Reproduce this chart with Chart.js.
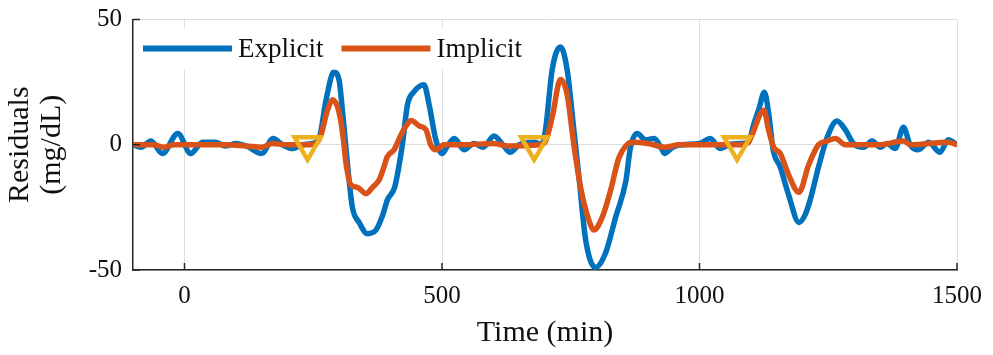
<!DOCTYPE html>
<html>
<head>
<meta charset="utf-8">
<script src="https://cdn.jsdelivr.net/npm/chart.js@4/dist/chart.umd.min.js"></script>
<style>
  body { margin: 0; background: #fff; }
  canvas { display: block; }
</style>
</head>
<body>
<canvas id="residuals" width="993" height="355"></canvas>
<script>
'use strict';

// residuals (time in min, value in mg/dL)
const explicitT = [-100, -85, -65, -43, -13, 12, 35, 60, 80, 100, 120, 150, 172, 190, 210, 230, 248,
  262, 275, 290, 300, 307, 317, 326, 339, 355, 372, 385, 394, 408, 423, 433, 445, 465, 475, 488,
  500, 512, 524, 543, 562, 580, 601, 620, 632, 650, 680, 694,
  701, 714, 730, 743, 756, 766, 779, 798, 818, 837, 857, 866, 879, 895, 912, 925, 932, 948, 966,
  1000, 1021, 1040, 1057, 1080, 1095, 1105, 1115, 1126, 1134, 1143, 1157, 1173, 1193, 1205, 1215,
  1231, 1248, 1267, 1283, 1299, 1319, 1335, 1351, 1364, 1380, 1396, 1409, 1425, 1445, 1467, 1483, 1500];
const explicitV = [0, -1, 1.5, -3.5, 4.5, -3.5, 1, 1, -0.5, 0.5, -0.5, -3.5, 2.5, 0, -1.5, 0, 0.5,
  3, 18, 29, 26, 13, -9, -25, -31, -35.5, -34, -28, -22, -17, 0, 16, 21, 24, 16, 2,
  -3.5, 0, 2.5, -2, 0.5, -1, 3.5, -0.5, -3, 0, 1, 0,
  6, 30, 39, 30, 6, -13, -38, -49, -43, -29, -14.5, -1, 4.5, 2, 2.5, -1, -3.5, -1, 0,
  0.5, 2.5, -1.5, 0, 0.5, 1, 8, 14, 21, 13, -2, -9, -20, -31, -28, -22,
  -9, 3, 9.5, 6, 0.5, -1, 1.5, -1, 0.5, -1.5, 7, 0, -2, 1, -3, 2, 0];

const implicitT = [-100, -60, -40, -20, 30, 80, 120, 150, 170, 200, 240, 255,
  265, 278, 288, 300, 308, 313, 323, 336, 352, 365, 378, 387, 394, 407, 420, 432, 440, 456, 469, 478, 488,
  504, 540, 600, 630, 690, 700, 714, 730, 743, 756, 769, 785, 795, 811, 827, 843, 859, 869, 900, 934, 960,
  1000, 1080, 1095, 1102, 1125, 1134, 1144, 1157, 1173, 1193, 1212, 1231, 1248, 1264, 1283, 1350, 1396, 1410, 1483, 1500];
const implicitV = [0, 0, -1, 0, 0, 0, -0.5, -1, 0.5, 0, 0, 0.5,
  4, 14, 18, 13, 3, -6.5, -16, -17, -19.5, -17, -14, -9, -4.7, -2, 3.8, 8, 9.7, 7.5, 6, 0, -2,
  0, 0, 0.5, -0.5, 0, 1, 11, 26, 20, 0, -17, -30, -34, -29, -18.5, -5.5, 0, 1, 0.5, -1, 0,
  0, 0, 1, 4, 13.8, 6, -1, -3.5, -12, -19, -8, 0, 1.5, 2.5, 0, 0, 1.5, 0, 1, 0];

// meal / event markers
const eventT = [239, 679, 1073];
const eventV = [0, 0, 0];

const xTicks = [0, 500, 1000, 1500];
const yTicks = [-50, 0, 50];
const seriesNames = ['Explicit', 'Implicit'];

const pts = (ts, vs) => ts.map((t, i) => ({x: t, y: vs[i]}));

const serif = "'Liberation Serif', 'Times New Roman', serif";
const ink = '#111111';
const gridColor = '#dedede';

// MATLAB style inward tick marks
const innerTicks = {
  id: 'innerTicks',
  afterDraw(chart) {
    const {ctx, chartArea: a, scales: {x, y}} = chart;
    ctx.save();
    ctx.strokeStyle = '#262626';
    ctx.lineWidth = 1.5;
    ctx.beginPath();
    xTicks.forEach(v => {
      const px = x.getPixelForValue(v);
      ctx.moveTo(px, a.bottom);
      ctx.lineTo(px, a.bottom - 7);
    });
    yTicks.forEach(v => {
      const py = y.getPixelForValue(v);
      ctx.moveTo(a.left, py);
      ctx.lineTo(a.left + 7, py);
    });
    ctx.stroke();
    ctx.restore();
  }
};

// legend inside the axes, top left, horizontal
const insideLegend = {
  id: 'insideLegend',
  afterDraw(chart) {
    const {ctx, chartArea: a} = chart;
    const lineLen = 89, gap = 6, between = 18;
    ctx.save();
    ctx.font = '27px ' + serif;
    const widths = seriesNames.map(s => ctx.measureText(s).width);
    const total = widths.reduce((s, w) => s + lineLen + gap + w, 0) + between + 8;
    ctx.fillStyle = '#fff';
    ctx.fillRect(a.left + 4, a.top + 9, total + 6, 41);
    let x = a.left + 10;
    const yMid = a.top + 29;
    seriesNames.forEach((name, i) => {
      const ds = chart.data.datasets[i];
      ctx.strokeStyle = ds.borderColor;
      ctx.lineWidth = 6;
      ctx.beginPath();
      ctx.moveTo(x, yMid);
      ctx.lineTo(x + lineLen, yMid);
      ctx.stroke();
      ctx.fillStyle = ink;
      ctx.textBaseline = 'alphabetic';
      ctx.fillText(name, x + lineLen + gap, yMid + 8);
      x += lineLen + gap + widths[i] + between;
    });
    ctx.restore();
  }
};

const ctx = document.getElementById('residuals');
new Chart(ctx, {
  type: 'line',
  data: {
    datasets: [{
      label: seriesNames[0],
      data: pts(explicitT, explicitV),
      borderColor: '#0072BD',
      borderWidth: 5.5,
      pointRadius: 0,
      cubicInterpolationMode: 'monotone',
      order: 2
    }, {
      label: seriesNames[1],
      data: pts(implicitT, implicitV),
      borderColor: '#D95319',
      borderWidth: 5.5,
      pointRadius: 0,
      cubicInterpolationMode: 'monotone',
      order: 1
    }, {
      label: 'events',
      data: pts(eventT, eventV),
      showLine: false,
      pointStyle: 'triangle',
      rotation: 180,
      pointRadius: 15,
      pointBorderWidth: 4.5,
      pointBorderColor: '#EDB120',
      pointBackgroundColor: 'rgba(0,0,0,0)',
      order: 0
    }]
  },
  options: {
    responsive: false,
    devicePixelRatio: 1,
    animation: false,
    layout: { padding: { top: 14, right: 35, left: 0, bottom: 0 } },
    plugins: { legend: { display: false }, tooltip: { enabled: false } },
    scales: {
      x: {
        type: 'linear',
        min: -100,
        max: 1500,
        afterFit(s) { s.height = 85; },
        afterBuildTicks(s) { s.ticks = xTicks.map(v => ({value: v})); },
        grid: { color: gridColor, lineWidth: 1, drawTicks: false },
        border: { color: '#262626', width: 1.5 },
        ticks: {
          padding: 11,
          color: ink,
          font: { family: serif, size: 25 },
          callback: v => String(v)
        },
        title: {
          display: true,
          text: 'Time (min)',
          color: ink,
          font: { family: serif, size: 30, lineHeight: 1.04 },
          padding: { top: 0, bottom: 6 }
        }
      },
      y: {
        min: -50,
        max: 50,
        afterFit(s) {
          s.width = 133;
          s.paddingTop = 0;
          s.paddingBottom = 0;
        },
        afterBuildTicks(s) { s.ticks = yTicks.map(v => ({value: v})); },
        grid: { color: gridColor, lineWidth: 1, drawTicks: false },
        border: { color: '#262626', width: 1.5 },
        ticks: {
          padding: 11,
          color: ink,
          font: { family: serif, size: 25 },
          callback: v => String(v)
        },
        title: {
          display: true,
          text: ['Residuals', '(mg/dL)'],
          color: ink,
          font: { family: serif, size: 30, lineHeight: 1.04 },
          padding: { top: 5, bottom: 0 }
        }
      }
    }
  },
  plugins: [innerTicks, insideLegend]
});
</script>
</body>
</html>
